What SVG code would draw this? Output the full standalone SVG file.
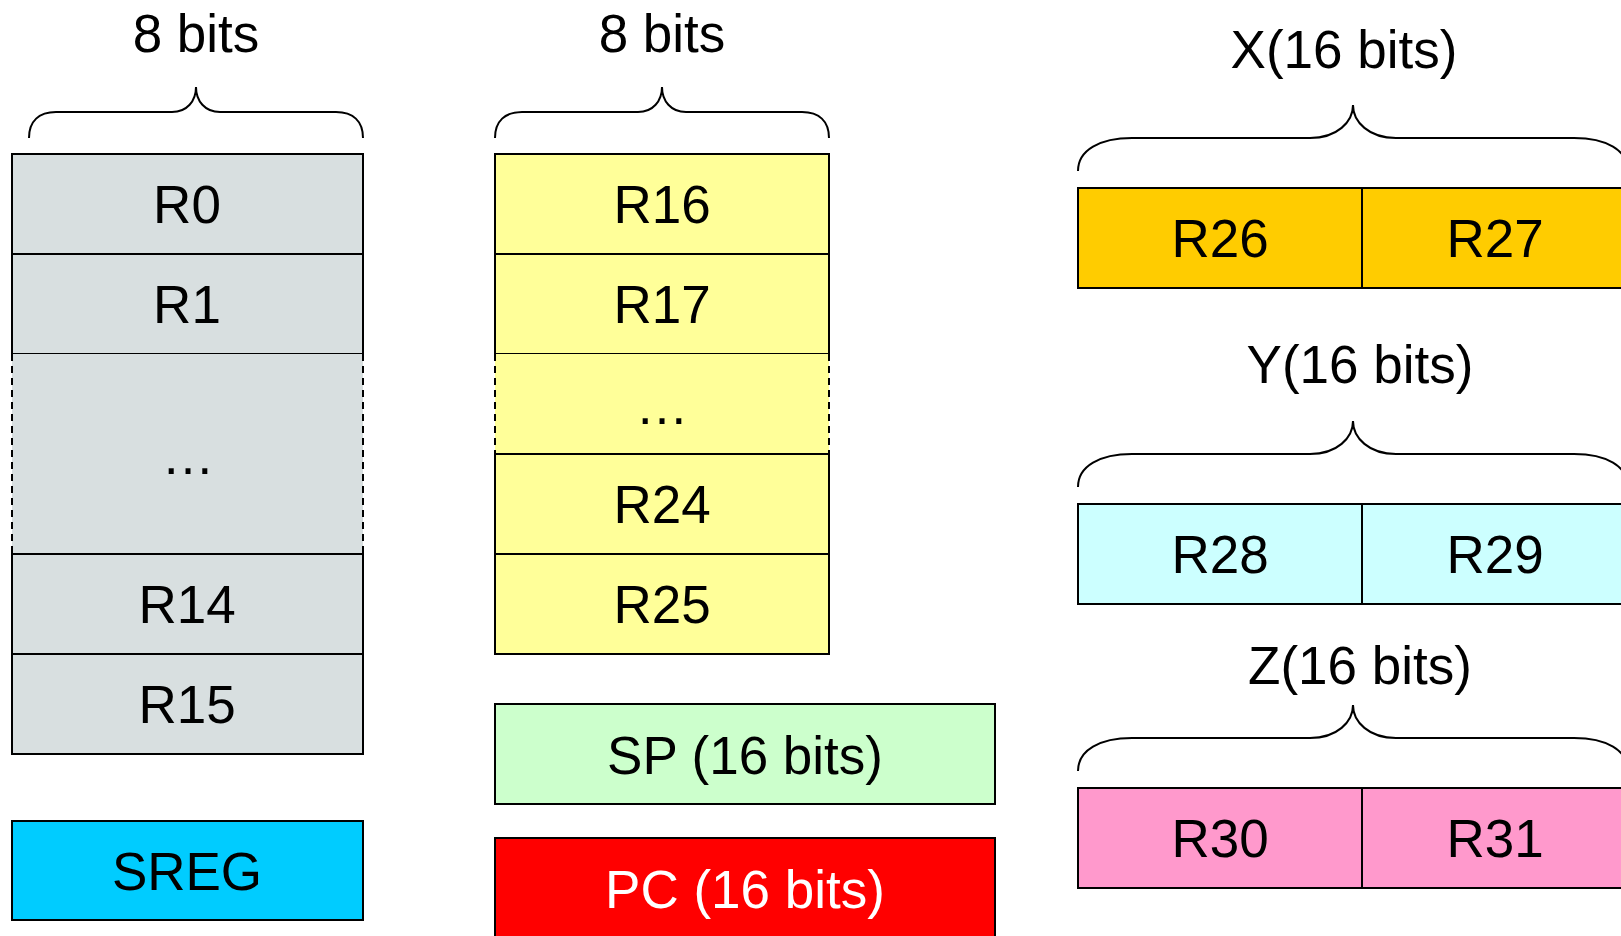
<svg xmlns="http://www.w3.org/2000/svg" width="1621" height="936" viewBox="0 0 1621 936">
  <style>
    text { font-family: "Liberation Sans", Arial, Helvetica, sans-serif; font-size: 53px; text-anchor: middle; fill: #000; }
    .cell { stroke: #000; stroke-width: 2; }
    .gap { stroke: none; }
    .dash { fill: none; stroke: #000; stroke-width: 2; stroke-dasharray: 7 5; }
    .brace { fill: none; stroke: #000; stroke-width: 2; }
    .gray { fill: #d8dfe0; }
    .yellow { fill: #ffff99; }
    .cyan { fill: #00ccff; }
    .green { fill: #ccffcc; }
    .red { fill: #ff0000; }
    .orange { fill: #ffcc00; }
    .aqua { fill: #ccffff; }
    .pink { fill: #ff99cc; }
    .white { fill: #ffffff; }
  </style>

  <!-- Width annotations -->
  <text x="196" y="52">8 bits</text>
  <text x="662" y="52">8 bits</text>
  <text x="1344" y="68">X(16 bits)</text>
  <text x="1360" y="383">Y(16 bits)</text>
  <text x="1360" y="684">Z(16 bits)</text>

  <g id="braces">
    <path class="brace" d="M29,138 C29,121 39,112 56,112 L172,112 C187,112 196,101 196,87 C196,101 205,112 220,112 L336,112 C353,112 363,121 363,138"/>
    <path class="brace" d="M495,138 C495,121 505,112 522,112 L638,112 C653,112 662,101 662,87 C662,101 671,112 686,112 L802,112 C819,112 829,121 829,138"/>
    <path class="brace" d="M1078,171 C1078,150 1100,138 1132,138 L1310,138 C1337,138 1353,122 1353,105 C1353,122 1369,138 1396,138 L1574,138 C1606,138 1628,150 1628,171"/>
    <path class="brace" d="M1078,487 C1078,466 1100,454 1132,454 L1310,454 C1337,454 1353,438 1353,421 C1353,438 1369,454 1396,454 L1574,454 C1606,454 1628,466 1628,487"/>
    <path class="brace" d="M1078,771 C1078,750 1100,738 1132,738 L1310,738 C1337,738 1353,722 1353,705 C1353,722 1369,738 1396,738 L1574,738 C1606,738 1628,750 1628,771"/>
  </g>

  <!-- Registers R0..R15 -->
  <g id="r0"><rect class="cell gray" x="12" y="154" width="351" height="100"/><text x="187" y="223">R0</text></g>
  <g id="r1"><rect class="cell gray" x="12" y="254" width="351" height="100"/><text x="187" y="323">R1</text></g>
  <g id="r2-r13">
    <rect class="gap gray" x="12" y="354" width="351" height="200"/>
    <line class="dash" x1="12" y1="354" x2="12" y2="554"/>
    <line class="dash" x1="363" y1="354" x2="363" y2="554"/>
    <text x="188" y="474">…</text>
  </g>
  <g id="r14"><rect class="cell gray" x="12" y="554" width="351" height="100"/><text x="187" y="623">R14</text></g>
  <g id="r15"><rect class="cell gray" x="12" y="654" width="351" height="100"/><text x="187" y="723">R15</text></g>
  <g id="sreg"><rect class="cell cyan" x="12" y="821" width="351" height="99"/><text x="187" y="890">SREG</text></g>

  <!-- Registers R16..R25 -->
  <g id="r16"><rect class="cell yellow" x="495" y="154" width="334" height="100"/><text x="662" y="223">R16</text></g>
  <g id="r17"><rect class="cell yellow" x="495" y="254" width="334" height="100"/><text x="662" y="323">R17</text></g>
  <g id="r18-r23">
    <rect class="gap yellow" x="495" y="354" width="334" height="100"/>
    <line class="dash" x1="495" y1="354" x2="495" y2="454"/>
    <line class="dash" x1="829" y1="354" x2="829" y2="454"/>
    <text x="662" y="424">…</text>
  </g>
  <g id="r24"><rect class="cell yellow" x="495" y="454" width="334" height="100"/><text x="662" y="523">R24</text></g>
  <g id="r25"><rect class="cell yellow" x="495" y="554" width="334" height="100"/><text x="662" y="623">R25</text></g>

  <!-- Stack pointer and program counter -->
  <g id="sp"><rect class="cell green" x="495" y="704" width="500" height="100"/><text x="745" y="774">SP (16 bits)</text></g>
  <g id="pc"><rect class="cell red" x="495" y="838" width="500" height="104"/><text class="white" x="745" y="908">PC (16 bits)</text></g>

  <!-- Pointer register pairs -->
  <g id="x">
    <rect class="cell orange" x="1078" y="188" width="284" height="100"/>
    <rect class="cell orange" x="1362" y="188" width="284" height="100"/>
    <text x="1220" y="257">R26</text>
    <text x="1495" y="257">R27</text>
  </g>
  <g id="y">
    <rect class="cell aqua" x="1078" y="504" width="284" height="100"/>
    <rect class="cell aqua" x="1362" y="504" width="284" height="100"/>
    <text x="1220" y="573">R28</text>
    <text x="1495" y="573">R29</text>
  </g>
  <g id="z">
    <rect class="cell pink" x="1078" y="788" width="284" height="100"/>
    <rect class="cell pink" x="1362" y="788" width="284" height="100"/>
    <text x="1220" y="857">R30</text>
    <text x="1495" y="857">R31</text>
  </g>
</svg>
